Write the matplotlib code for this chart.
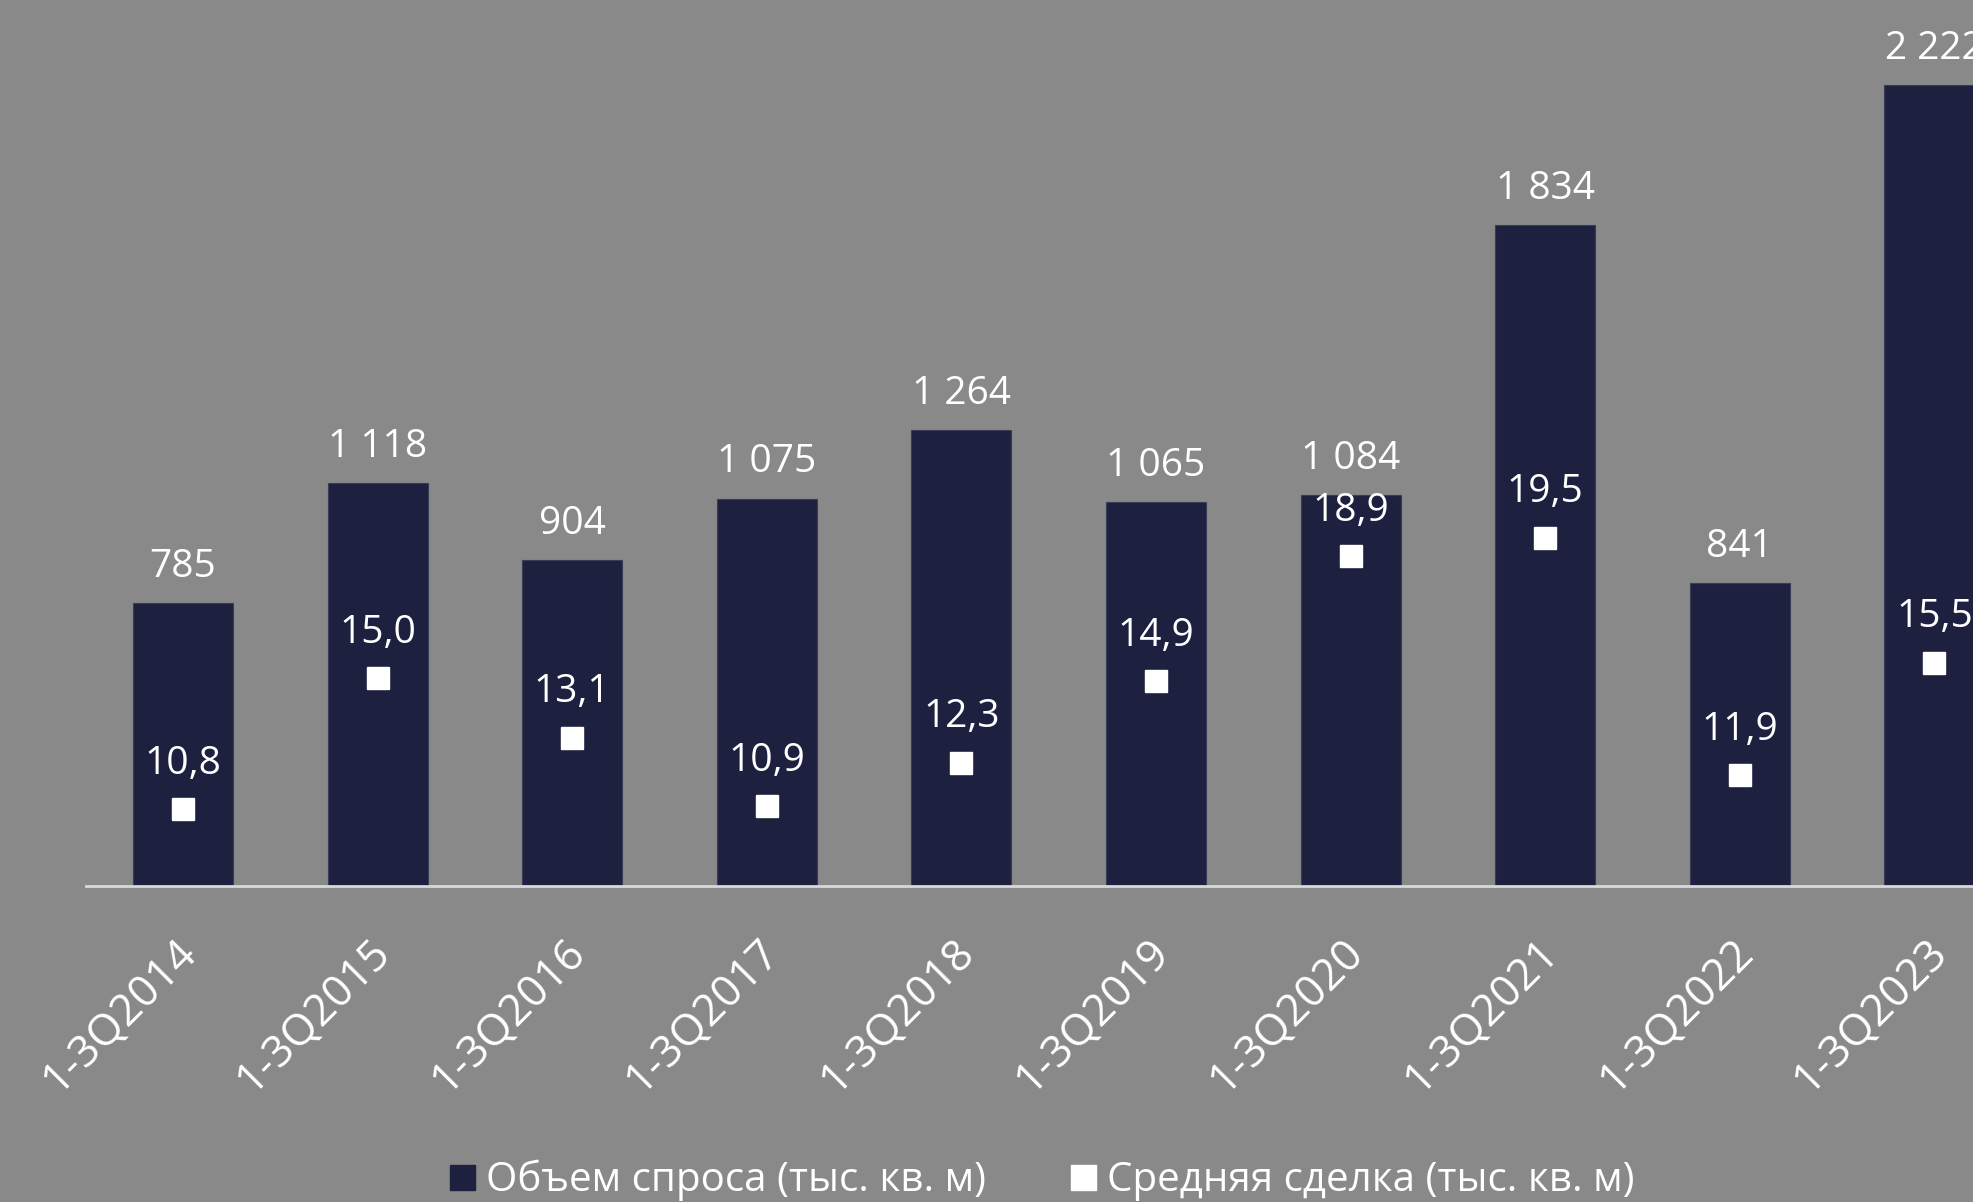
import numpy as np
import matplotlib.pyplot as plt
import matplotlib.transforms as mtransforms

# data
periods = ['1-3Q2014', '1-3Q2015', '1-3Q2016', '1-3Q2017', '1-3Q2018',
           '1-3Q2019', '1-3Q2020', '1-3Q2021', '1-3Q2022', '1-3Q2023']
demand = [785, 1118, 904, 1075, 1264, 1065, 1084, 1834, 841, 2222]
avg_deal = [10.8, 15.0, 13.1, 10.9, 12.3, 14.9, 18.9, 19.5, 11.9, 15.5]

bg = '#898989'
bar_col = '#1e2040'
plt.rcParams['font.family'] = ['Open Sans', 'DejaVu Sans']

fig = plt.figure(figsize=(19.74, 12.02), dpi=100, facecolor=bg)
ax = fig.add_axes([86/1974, 0.2629, 1 - 86/1974, 0.7038])
ax.set_facecolor(bg)
ax2 = ax.twinx()

x = np.arange(len(periods))
bars = ax.bar(x, demand, width=0.514, color=bar_col, edgecolor='#3a3d58',
              linewidth=0.8, zorder=2)
ax.set_xlim(-0.498, 9.203)
ax.set_ylim(0, 2347)
ax2.set_ylim(8.35, 35.42)

for xi, v in zip(x, demand):
    ax.annotate(f'{v:,}'.replace(',', ' '), (xi, v), xytext=(0, 26),
                textcoords='offset points', ha='center', va='center',
                color='white', fontsize=28)

ax2.plot(x, avg_deal, ls='none', marker='s', ms=16.5, color='white', zorder=3)
for xi, v in zip(x, avg_deal):
    ax2.annotate(f'{v:.1f}'.replace('.', ','), (xi, v), xytext=(0, 32.5),
                 textcoords='offset points', ha='center', va='center',
                 color='white', fontsize=28)

for a in (ax, ax2):
    for s in a.spines.values():
        s.set_visible(False)
    a.set_yticks([])
ax.spines['bottom'].set_visible(True)
ax.spines['bottom'].set_color('#d9d9d9')
ax.spines['bottom'].set_linewidth(2)

ax.set_xticks(x)
ax.set_xticklabels(periods, rotation=45, ha='right', va='center',
                   rotation_mode='anchor', color='white', fontsize=31.5)
ax.tick_params(axis='x', length=0, pad=43)
shift = mtransforms.ScaledTranslation(5/72, 0, fig.dpi_scale_trans)
for lbl in ax.get_xticklabels():
    lbl.set_transform(lbl.get_transform() + shift)

h1 = plt.Line2D([], [], ls='none', marker='s', ms=18, color=bar_col)
h2 = plt.Line2D([], [], ls='none', marker='s', ms=18, color='white')
fig.legend([h1, h2], ['Объем спроса (тыс. кв. м)', 'Средняя сделка (тыс. кв. м)'],
           loc='center', bbox_to_anchor=(0.527, 0.018), ncol=2, frameon=False,
           fontsize=29, labelcolor='white', handletextpad=0.2, columnspacing=2.0,
           handlelength=0.8)

fig.savefig('out.png', dpi=100, facecolor=bg)
